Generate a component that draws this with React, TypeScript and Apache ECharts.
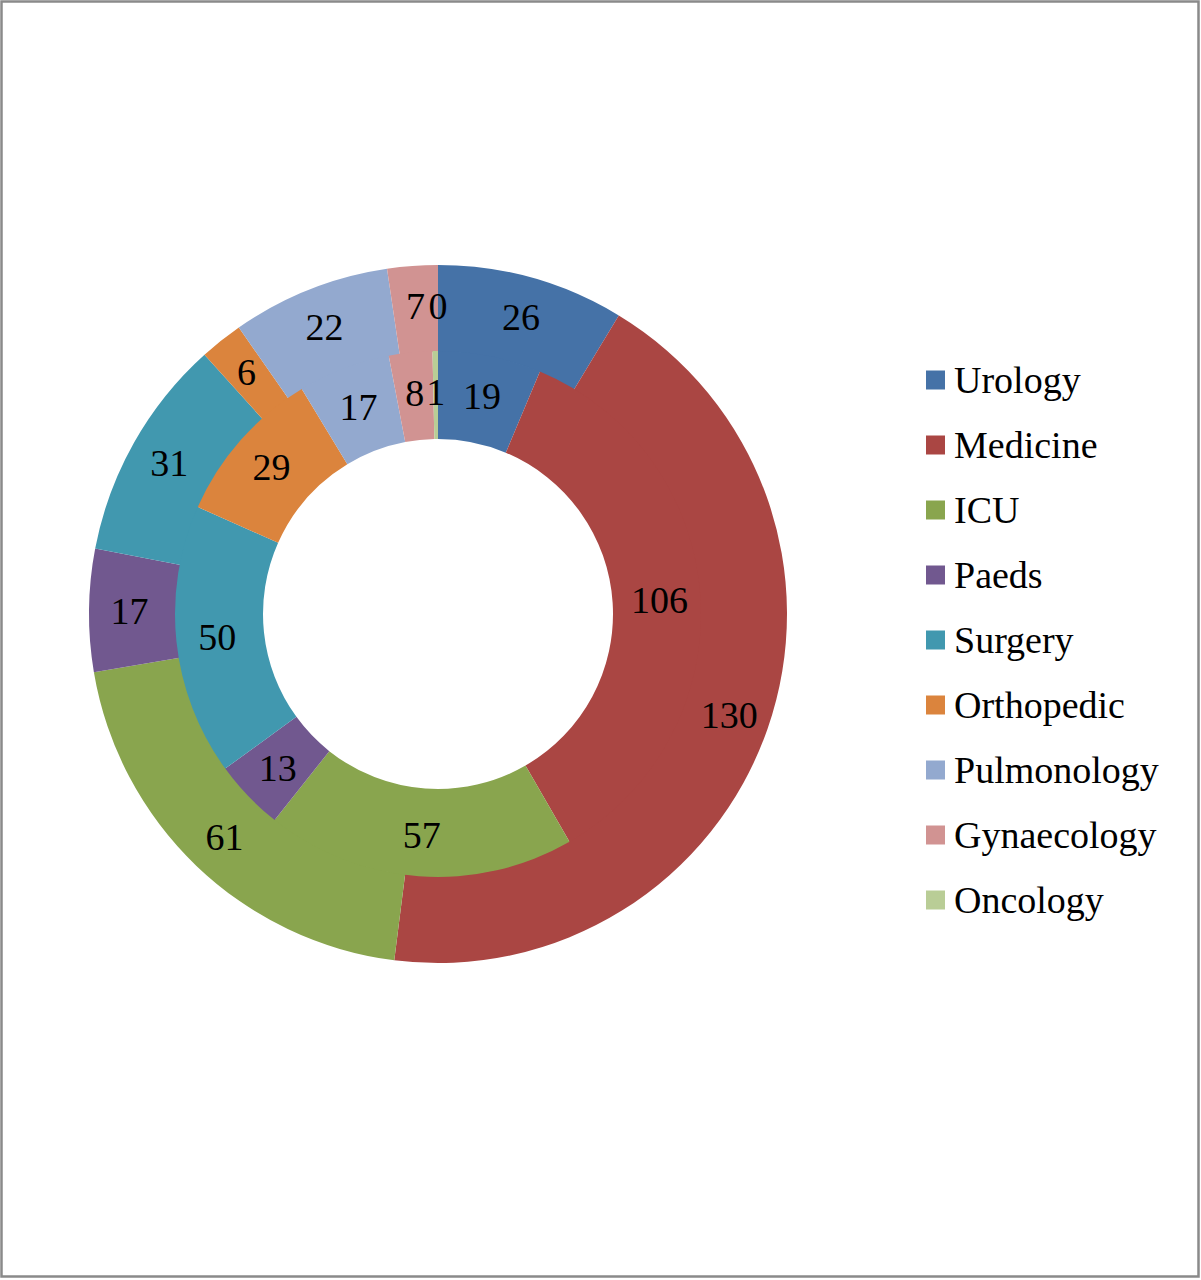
import React, { useEffect, useRef } from 'react';
import * as echarts from 'echarts';

const departments = [
  'Urology',
  'Medicine',
  'ICU',
  'Paeds',
  'Surgery',
  'Orthopedic',
  'Pulmonology',
  'Gynaecology',
  'Oncology'
];

// outer ring and inner ring counts, same department order
const outerValues = [26, 130, 61, 17, 31, 6, 22, 7, 0];
const innerValues = [19, 106, 57, 13, 50, 29, 17, 8, 1];

const colors = [
  '#4572A7',
  '#AA4643',
  '#89A54E',
  '#71588F',
  '#4198AF',
  '#DB843D',
  '#93A9CF',
  '#D19392',
  '#B9CD96'
];

const FONT = "'Liberation Serif', 'Times New Roman', serif";

const App = () => {
  const chartRef = useRef<HTMLDivElement>(null);

  useEffect(() => {
    if (!chartRef.current) return;

    const chart = echarts.init(chartRef.current, null, { renderer: 'svg' });

    const ringLabel = {
      show: true,
      position: 'inside',
      formatter: '{c}',
      color: '#000000',
      fontFamily: FONT,
      fontSize: 38
    };

    const option = {
      animation: false,
      backgroundColor: '#ffffff',
      color: colors,
      textStyle: { fontFamily: FONT },
      graphic: [
        {
          type: 'rect',
          shape: { x: 1.5, y: 1.5, width: 1197, height: 1275 },
          style: { fill: 'none', stroke: '#8a8a8a', lineWidth: 2.5 },
          silent: true
        }
      ],
      legend: {
        orient: 'vertical',
        left: 926,
        top: 361,
        padding: 0,
        itemWidth: 19,
        itemHeight: 19,
        itemGap: 27,
        icon: 'rect',
        data: departments,
        selectedMode: false,
        textStyle: {
          fontFamily: FONT,
          fontSize: 38,
          lineHeight: 38,
          color: '#000000',
          padding: [0, 0, 0, 4]
        }
      },
      series: [
        {
          name: 'Outer',
          type: 'pie',
          center: [438, 614],
          radius: [262, 349],
          startAngle: 90,
          clockwise: true,
          silent: true,
          label: ringLabel,
          labelLine: { show: false },
          itemStyle: { borderWidth: 0 },
          emphasis: { disabled: true },
          data: departments.map((name, i) => ({ name, value: outerValues[i] }))
        },
        {
          name: 'Inner',
          type: 'pie',
          center: [438, 614],
          radius: [175, 263],
          startAngle: 90,
          clockwise: true,
          silent: true,
          label: ringLabel,
          labelLine: { show: false },
          itemStyle: { borderWidth: 0 },
          emphasis: { disabled: true },
          data: departments.map((name, i) => ({ name, value: innerValues[i] }))
        }
      ]
    };

    chart.setOption(option);

    return () => {
      chart.dispose();
    };
  }, []);

  return (
    <div
      ref={chartRef}
      style={{ position: 'absolute', left: 0, top: 0, width: 1201, height: 1280 }}
    />
  );
};

export default App;
